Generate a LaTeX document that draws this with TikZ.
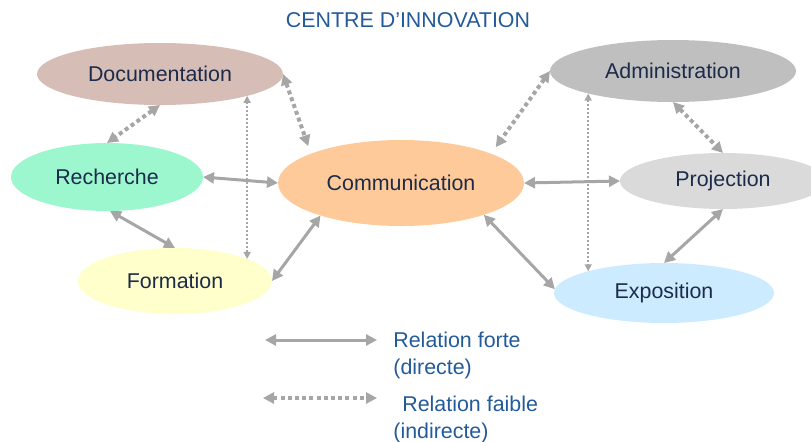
\documentclass[tikz,border=0pt]{standalone}
\usepackage{fontspec}
\setmainfont{Liberation Sans}
\usepackage{xcolor}
\usetikzlibrary{arrows.meta,positioning,shapes.geometric}

\definecolor{docfill}{HTML}{D6BDB5}
\definecolor{rechfill}{HTML}{9CF7CF}
\definecolor{formfill}{HTML}{FFFFCC}
\definecolor{commfill}{HTML}{FFCA99}
\definecolor{adminfill}{HTML}{BFBFBF}
\definecolor{projfill}{HTML}{DADADA}
\definecolor{expofill}{HTML}{CCEBFF}
\definecolor{navytext}{HTML}{1C2B4A}
\definecolor{legblue}{HTML}{235A9A}
\definecolor{relgray}{HTML}{A6A6A6}

\begin{document}
\begin{tikzpicture}[x=0.5pt, y=-0.5pt,
    zone/.style={ellipse, inner sep=0pt, outer sep=0pt, text=navytext,
                 font=\fontsize{10.7}{13}\selectfont},
    legende/.style={align=left, inner sep=0pt, text=legblue,
                    font=\fontsize{10.7}{13.5}\selectfont},
    arr/.style={{Triangle[length=5.5pt,width=5.5pt]}-{Triangle[length=5.5pt,width=5.5pt]},
                draw=relgray, line width=1.5pt},
    faible/.style={arr, line width=2pt, dash pattern=on 2pt off 1.6pt},
    tenu/.style={{Triangle[length=3.5pt,width=3.5pt]}-{Triangle[length=3.5pt,width=3.5pt]},
                 draw=relgray, line width=0.8pt, dash pattern=on 1pt off 1pt}]
    \useasboundingbox (0,0) rectangle (811,441);
    \node[text=legblue, font=\fontsize{10.7}{13}\selectfont] (titre) at (408,20) {CENTRE D’INNOVATION};
    % ellipses
    \node[zone, fill=docfill, minimum width=123pt, minimum height=31pt] (doc) at (160,74) {Documentation};
    \node[zone, fill=rechfill, minimum width=96pt, minimum height=34pt] (rech) at (107,177) {Recherche};
    \node[zone, fill=formfill, minimum width=97pt, minimum height=33pt] (form) at (175,281) {Formation};
    \node[zone, fill=commfill, minimum width=123pt, minimum height=43pt] (comm) at (401,183) {Communication};
    \node[zone, fill=adminfill, minimum width=123pt, minimum height=31pt] (admin) at (673,71) {Administration};
    \node[zone, fill=projfill, minimum width=103pt, minimum height=28pt] (proj) at (723,181) {Projection};
    \node[zone, fill=expofill, minimum width=110pt, minimum height=30pt] (expo) at (664,293) {Exposition};
    % relations fortes
    \draw[arr] (rech.east) -- (comm.west);
    \draw[arr] (rech.-85) -- (form.north);
    \draw[arr] (form.east) -- (comm.202);
    \draw[arr] (comm.east) -- (proj.west);
    \draw[arr] (comm.-21) -- (expo.178);
    \draw[arr] (proj.south) -- (expo.north);
    % relations faibles
    \draw[faible] (doc.south) -- (rech.north);
    \draw[faible, shorten >=4pt] (doc.east) -- (comm.162);
    \draw[faible, shorten >=4pt] (admin.west) -- (comm.18);
    \draw[faible] (admin.south) -- (proj.north);
    \draw[tenu] (form.17 |- doc.-14) -- (form.17);
    \draw[tenu] (expo.164 |- admin.195) -- (expo.164);
    % legende
    \coordinate (f1) at (265,340);
    \coordinate (f2) at (377,340);
    \draw[arr] (f1) -- (f2);
    \coordinate (w1) at (263,398);
    \coordinate (w2) at (377,398);
    \draw[faible] (w1) -- (w2);
    \node[legende, anchor=north west] (lforte) at (393,332) {Relation forte\\(directe)};
    \node[legende, anchor=north west] (lfaible) at (393,396) {\hspace{4.5pt}Relation faible\\(indirecte)};
\end{tikzpicture}
\end{document}
